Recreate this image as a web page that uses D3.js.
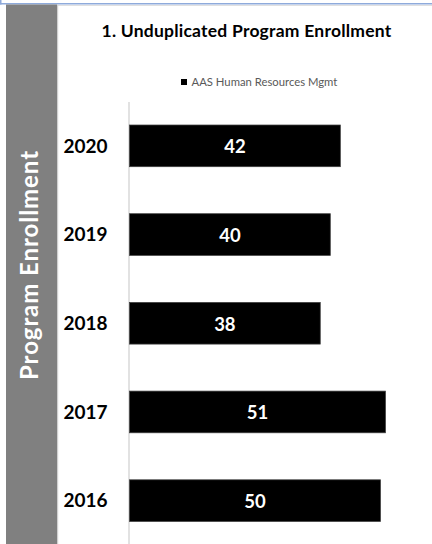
<!DOCTYPE html>
<html>
<head>
<meta charset="utf-8">
<script src="https://cdn.jsdelivr.net/npm/d3@7"></script>
<style>
  html, body { margin: 0; padding: 0; background: #fff; }
  svg { display: block; }
</style>
</head>
<body>
<div id="chart"></div>
<script>
const years = ["2020", "2019", "2018", "2017", "2016"];
const enrollment = [42, 40, 38, 51, 50];
const seriesName = "AAS Human Resources Mgmt";
const chartTitle = "1. Unduplicated Program Enrollment";
const sideTitle = "Program Enrollment";

const W = 432, H = 544;
const svg = d3.select("#chart").append("svg").attr("width", W).attr("height", H);
const font = "Lato, 'Open Sans', sans-serif";

// widen letter spacing so the text spans a target width
function fitSpacing(sel, target) {
  const node = sel.node();
  const len = node.getComputedTextLength();
  const n = sel.text().length;
  if (len > 0 && n > 1) sel.attr("letter-spacing", ((target - len) / n).toFixed(3));
  return sel;
}
// scale font size so the text spans a target width
function fitWidth(sel, target) {
  const fs = parseFloat(sel.attr("font-size"));
  const len = sel.node().getComputedTextLength();
  if (len > 0) sel.attr("font-size", (fs * target / len).toFixed(2));
  return sel;
}

// frame decorations
svg.append("rect").attr("x", 0).attr("y", 3).attr("width", W).attr("height", 1.5).attr("fill", "#8eaadb");
svg.append("rect").attr("x", 0).attr("y", 0).attr("width", 1.5).attr("height", 4.5).attr("fill", "#8eaadb");
svg.append("rect").attr("x", 57).attr("y", 5).attr("width", W - 57).attr("height", 1).attr("fill", "#e0e0e0");
svg.append("rect").attr("x", 6).attr("y", 4.5).attr("width", 51).attr("height", H - 4.5).attr("fill", "#808080");
svg.append("rect").attr("x", 57).attr("y", 4.5).attr("width", 1.2).attr("height", H - 4.5).attr("fill", "#d0d0d0");

// side title
const st = svg.append("text")
  .attr("transform", "translate(37.5,265) rotate(-90)")
  .attr("text-anchor", "middle")
  .attr("fill", "#fff")
  .attr("font-family", font)
  .attr("font-weight", "bold")
  .attr("font-size", 24)
  .text(sideTitle);
fitSpacing(st, 230);

// title
const tt = svg.append("text")
  .attr("x", 246.5).attr("y", 37)
  .attr("text-anchor", "middle")
  .attr("font-family", font)
  .attr("font-weight", "bold")
  .attr("font-size", 17.5)
  .attr("fill", "#000")
  .text(chartTitle);
fitSpacing(tt, 290);

// legend
const lg = svg.append("g").attr("transform", "translate(181,79)");
lg.append("rect").attr("width", 6).attr("height", 6).attr("fill", "#000");
const lt = lg.append("text").attr("x", 10.5).attr("y", 6.8)
  .attr("font-family", font).attr("font-size", 10).attr("fill", "#595959")
  .text(seriesName);
fitWidth(lt, 146);

// scales
const x = d3.scaleLinear().domain([0, 60]).range([129.5, 430.7]);
const y = d3.scaleBand().domain(years).range([101.5, 545]).paddingInner(0.53).paddingOuter(0.265);

// axis
const axis = d3.axisLeft(y).tickSize(0).tickSizeOuter(0).tickPadding(21);
const ag = svg.append("g").attr("transform", "translate(128.5,0)").call(axis);
ag.select(".domain").attr("stroke", "#d9d9d9").attr("stroke-width", 1.5);
ag.selectAll(".tick text")
  .attr("font-family", font)
  .attr("font-weight", "bold")
  .attr("font-size", 19)
  .attr("fill", "#000")
  .attr("dy", "0.35em");

const data = years.map((yr, i) => ({ yr, v: enrollment[i] }));

svg.append("g").selectAll("rect").data(data).join("rect")
  .attr("x", x(0))
  .attr("y", d => y(d.yr))
  .attr("width", d => x(d.v) - x(0))
  .attr("height", y.bandwidth())
  .attr("fill", "#000")
  .attr("stroke", "#404040")
  .attr("stroke-width", 0.75);

svg.append("g").selectAll("text").data(data).join("text")
  .attr("x", d => (x(0) + x(d.v)) / 2)
  .attr("y", d => y(d.yr) + y.bandwidth() / 2 + 7.5)
  .attr("text-anchor", "middle")
  .attr("font-family", font)
  .attr("font-weight", "bold")
  .attr("font-size", 18.5)
  .attr("fill", "#fff")
  .text(d => d.v);
</script>
</body>
</html>
